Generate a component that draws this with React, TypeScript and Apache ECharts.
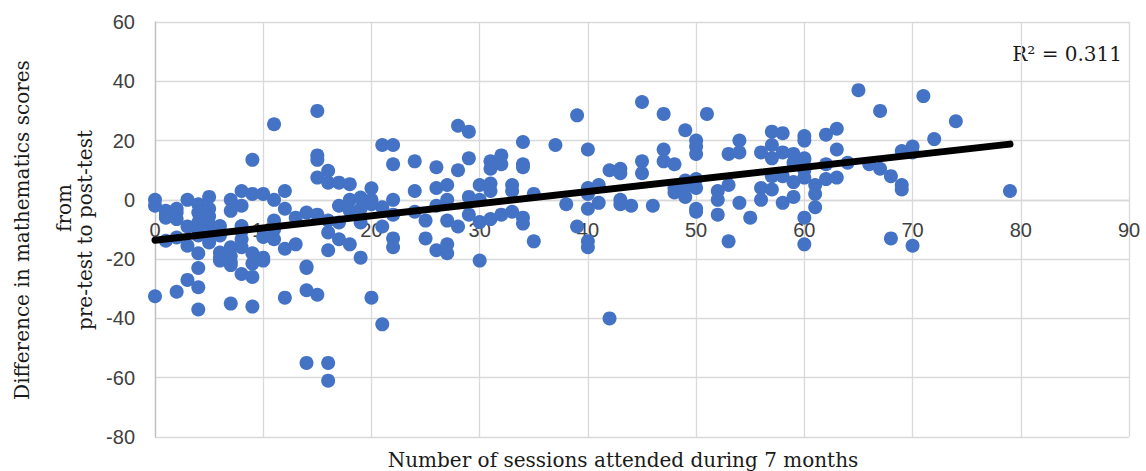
import React, { useEffect, useRef } from "react";
import * as echarts from "echarts";

// Sessions attended (x) with the score differences observed at that value (y)
const sessionValues = [
  0, 1, 2, 3, 4, 5, 6, 7, 8, 9, 10, 11, 12, 13, 14, 15, 16, 17, 18, 19, 20, 21, 22, 24, 25, 26, 27, 28, 29, 30,
  31, 32, 33, 34, 35, 37, 38, 39, 40, 41, 42, 43, 44, 45, 46, 47, 48, 49, 50, 51, 52, 53, 54, 55, 56, 57, 58, 59,
  60, 61, 62, 63, 64, 65, 66, 67, 68, 69, 70, 71, 72, 74, 79,
];
const scoreDiffs: number[][] = [
  [0, -2, -32.5],
  [-3.7, -6, -13.8, -5],
  [-4.3, -6.5, -12.7, -31, -3],
  [0, -9, -15.5, -27],
  [-1.5, -4.3, -7.6, -18, -23, -29.5, -37, -12, -10],
  [1, -3, -5.5, -8.2, -14.4, -11],
  [-8.8, -12, -17.8, -19.5, -20.5],
  [0, -3.7, -16, -21, -22, -35, -19],
  [3, -2, -8.8, -10.5, -13.3, -16, -25],
  [2, 13.5, -18, -21.5, -26, -36],
  [2, -12.5, -19.5, -20.5],
  [25.5, 0, -7, -13.3, -10],
  [3, -3, -16.5, -33],
  [-6, -15],
  [-4.3, -22.5, -23, -30.5, -55],
  [30, 15, 13.5, 7.5, -5, -32],
  [9.8, 5.8, -7, -11, -17, -55, -61],
  [5.8, -2, -7.6, -13.3],
  [5.3, 0, -3.7, -15],
  [0.8, -3, -7.6, -19.5],
  [3.9, 0, -1.5, -33],
  [18.5, -2.5, -9, -42],
  [18.5, 12, 0, -5, -13, -16],
  [13, 3, -4],
  [-7, -13],
  [11, 4, -2, -17],
  [5, 0, -7, -15, -18],
  [25, 10, -9],
  [23, 14, 1, -5],
  [5, 0, -7.5, -20.5],
  [13, 10.5, 5.5, 3, -6.5],
  [15, 12, -5],
  [5, 3, -4],
  [19.5, 12, 11, -6, -8],
  [2, -14],
  [18.5],
  [-1.5],
  [28.5, -9],
  [17, 4, 2, -3, -14, -16],
  [5, -1],
  [10, -40],
  [10.5, 9, 0, -1.5],
  [-2],
  [33, 13, 9],
  [-2],
  [29, 17, 13],
  [12, 4, 2.5],
  [23.5, 6.5, 4.5, 1],
  [20, 18, 15.5, 7, 4, -3, -4],
  [29],
  [3, 0, -5],
  [15.5, 5, -14],
  [20, 16, -1],
  [-6],
  [16, 4, 0],
  [23, 18.5, 14, 8, 3.5],
  [22.5, 16, 8, -1],
  [15.5, 12.5, 6, 1],
  [21.5, 20, 14, 13.5, 10, 7.5, -6, -15],
  [5, 2, -2.5],
  [22, 12, 7],
  [24, 17, 7.5],
  [12.5],
  [37],
  [12],
  [30, 10.5],
  [8, -13],
  [16.5, 5, 3.5],
  [18, 16, -15.5],
  [35],
  [20.5],
  [26.5],
  [3],
];

// Linear trendline end points
const trendX = [0, 79];
const trendY = [-13.6, 18.8];

const xTicks = [0, 10, 20, 30, 40, 50, 60, 70, 80, 90];
const yTicks = [-80, -60, -40, -20, 0, 20, 40, 60];

const rSquaredLabel = "R² = 0.311";
const xTitle = "Number of sessions attended during 7 months";
const yTitleLines = ["Difference in mathematics scores", "from", "pre-test to post-test"];

const GRID_TOP = 22;
const GRID_BOTTOM = 34;
const CHART_H = 471;

export default function App() {
  const ref = useRef<HTMLDivElement>(null);

  useEffect(() => {
    document.body.style.margin = "0";
    if (!ref.current) return;
    const chart = echarts.init(ref.current, null, { renderer: "svg" });

    const points: number[][] = [];
    sessionValues.forEach((x, i) => {
      scoreDiffs[i].forEach((y) => points.push([x, y]));
    });
    const trend = trendX.map((x, i) => [x, trendY[i]]);

    // place the x axis where y = 0 crosses the plot
    const yMin = yTicks[0];
    const yMax = yTicks[yTicks.length - 1];
    const plotH = CHART_H - GRID_TOP - GRID_BOTTOM;
    const zeroOffset = -((0 - yMin) / (yMax - yMin)) * plotH;

    const gridColor = "#d9d9d9";
    const labelFont = "'Liberation Sans', Arial, sans-serif";
    const serif = "'DejaVu Serif', serif";

    chart.setOption({
      animation: false,
      backgroundColor: "#ffffff",
      grid: { left: 155, right: 17, top: GRID_TOP, bottom: GRID_BOTTOM, containLabel: false },
      xAxis: {
        type: "value",
        min: xTicks[0],
        max: xTicks[xTicks.length - 1],
        interval: 10,
        offset: zeroOffset,
        axisLine: { show: true, onZero: false, lineStyle: { color: gridColor, width: 1.3 } },
        axisTick: { show: false },
        axisLabel: { color: "#404040", fontSize: 20, fontFamily: labelFont, margin: 20 },
        splitLine: { show: true, lineStyle: { color: gridColor, width: 1.3 } },
      },
      yAxis: {
        type: "value",
        min: yMin,
        max: yMax,
        interval: 20,
        axisLine: { show: true, onZero: false, lineStyle: { color: "#bfbfbf", width: 1.3 } },
        axisTick: { show: false },
        axisLabel: { color: "#404040", fontSize: 20, fontFamily: labelFont, margin: 20 },
        splitLine: { show: true, lineStyle: { color: gridColor, width: 1.3 } },
      },
      series: [
        {
          type: "scatter",
          data: points,
          symbol: "circle",
          symbolSize: 14,
          itemStyle: { color: "#4472C4", opacity: 1 },
          z: 2,
        },
        {
          type: "line",
          data: trend,
          symbol: "none",
          lineStyle: { color: "#000000", width: 7, cap: "round" },
          z: 3,
        },
      ],
      graphic: [
        {
          type: "text",
          right: 24,
          top: 44,
          style: { text: rSquaredLabel, font: `20px ${serif}`, fill: "#1a1a1a" },
        },
        {
          type: "text",
          x: 623,
          y: 460,
          style: {
            text: xTitle,
            font: `20px ${serif}`,
            fill: "#1a1a1a",
            textAlign: "center",
            textVerticalAlign: "middle",
          },
        },
        ...yTitleLines.map((t, i) => ({
          type: "text",
          x: [22, 64, 85][i],
          y: [230, 208, 230][i],
          rotation: Math.PI / 2,
          style: {
            text: t,
            font: `20px ${serif}`,
            fill: "#1a1a1a",
            textAlign: "center",
            textVerticalAlign: "middle",
          },
        })),
      ],
    });

    return () => chart.dispose();
  }, []);

  return <div ref={ref} style={{ width: 1146, height: 471 }} />;
}
